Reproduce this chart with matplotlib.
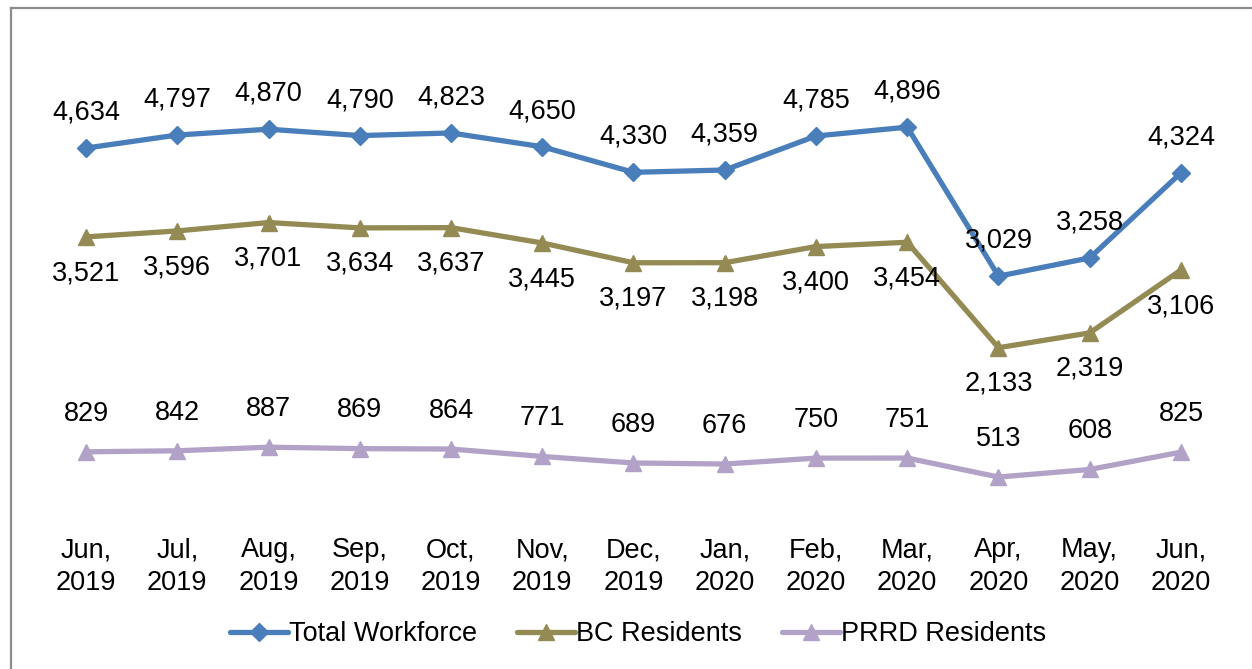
import matplotlib
matplotlib.use("Agg")
import matplotlib.pyplot as plt
from matplotlib.lines import Line2D

plt.rcParams['font.family'] = ['Liberation Sans', 'DejaVu Sans']

months = ["Jun,\n2019", "Jul,\n2019", "Aug,\n2019", "Sep,\n2019", "Oct,\n2019", "Nov,\n2019",
          "Dec,\n2019", "Jan,\n2020", "Feb,\n2020", "Mar,\n2020", "Apr,\n2020", "May,\n2020", "Jun,\n2020"]
total_workforce = [4634, 4797, 4870, 4790, 4823, 4650, 4330, 4359, 4785, 4896, 3029, 3258, 4324]
bc_residents = [3521, 3596, 3701, 3634, 3637, 3445, 3197, 3198, 3400, 3454, 2133, 2319, 3106]
prrd_residents = [829, 842, 887, 869, 864, 771, 689, 676, 750, 751, 513, 608, 825]

W, H = 1252, 669
fig = plt.figure(figsize=(W / 100, H / 100), dpi=100)
# axes in pixel coordinates
left, right, top, bottom = 40.4, 1226.6, 39, 518
ax = fig.add_axes([left / W, 1 - bottom / H, (right - left) / W, (bottom - top) / H])

x = list(range(len(months)))
fs = 19.5
series = [
    ("Total Workforce", total_workforce, "#4A7EBB", "D", 9.5, 25.5),
    ("BC Residents", bc_residents, "#948A54", "^", 11, -26),
    ("PRRD Residents", prrd_residents, "#B3A2C7", "^", 11, 27.5),
]
for name, vals, col, mk, ms, off in series:
    ax.plot(x, vals, color=col, lw=3.8, marker=mk, markersize=ms,
            markerfacecolor=col, markeredgecolor=col, label=name, solid_capstyle='round')
    for xi, v in zip(x, vals):
        ax.annotate(f"{v:,}", (xi, v), xytext=(0, off), textcoords='offset points',
                    ha='center', va='center', fontsize=fs, color='black')

ax.set_xlim(-0.5, len(months) - 0.5)
ax.set_ylim(0, 6000)
ax.set_xticks(x)
ax.set_xticklabels(months, fontsize=fs, linespacing=1.35)
ax.tick_params(axis='x', length=0, pad=14)
ax.set_yticks([])
for s in ax.spines.values():
    s.set_visible(False)

leg = fig.legend(loc='center', bbox_to_anchor=(638 / W, 1 - 634 / H), ncol=3, frameon=False,
                 fontsize=fs, handlelength=2.15, handletextpad=0.05, columnspacing=1.45)

# outer chart border (left and top visible)
fig.add_artist(Line2D([11 / W, 11 / W], [0, 1 - 8 / H], color='#8C8C8C', lw=1.6, transform=fig.transFigure))
fig.add_artist(Line2D([11 / W, 1], [1 - 8 / H, 1 - 8 / H], color='#8C8C8C', lw=1.6, transform=fig.transFigure))

fig.savefig("out.png", dpi=100)
